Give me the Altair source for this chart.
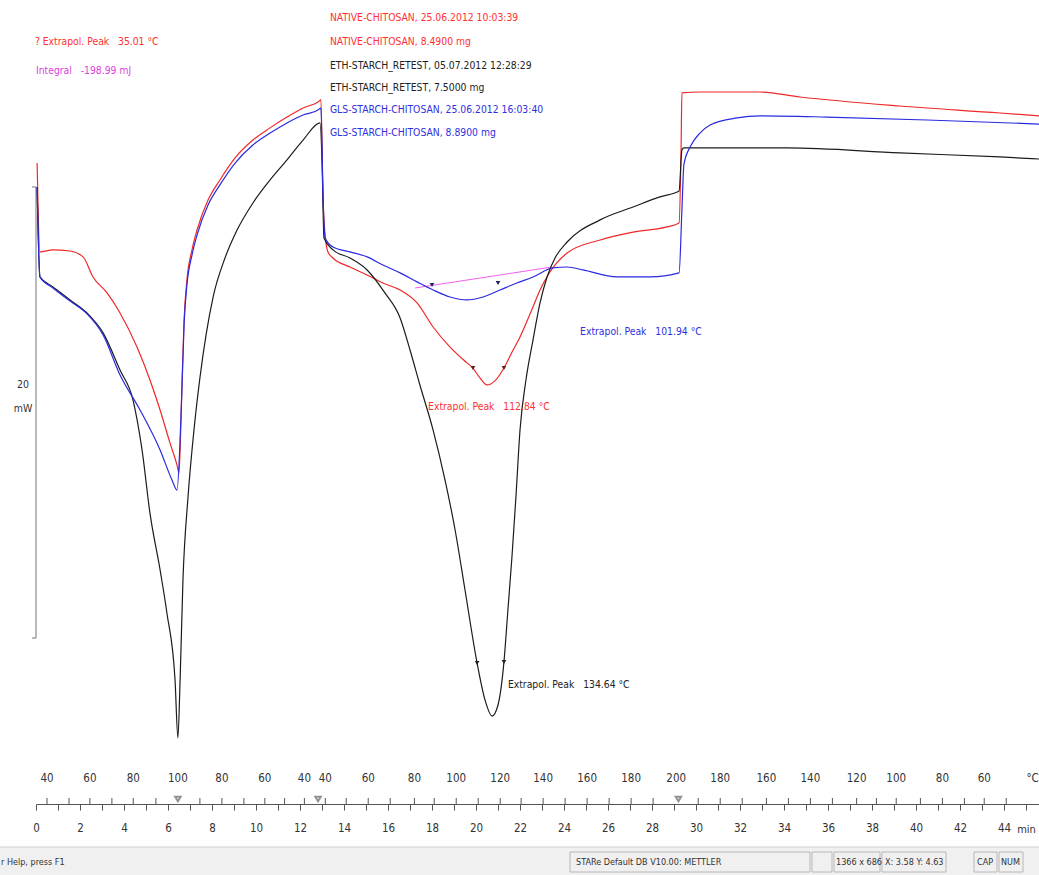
import altair as alt
import pandas as pd

# ---------------- data (time in min, heat flow in mW) ----------------
red_t = [0.05,0.18,0.77,1.55,2.14,2.59,3.23,3.82,4.59,5.18,5.64,6.09,6.41,6.50,6.59,6.64,6.73,6.86,7.09,7.32,
         7.82,8.36,9.05,9.86,10.64,11.41,12.14,12.82,12.95,13.05,13.14,13.27,13.50,14.27,15.05,15.77,16.55,17.32,
         18.05,18.82,19.59,19.86,20.18,20.50,20.86,21.27,21.64,22.00,22.59,22.91,23.36,24.14,25.64,27.14,28.68,
         29.23,29.32,29.36,30.18,32.91,34.73,39.27,43.82,45.59]
red_mw = [21.06,17.12,17.21,17.16,16.90,16.01,15.30,14.41,12.90,11.44,10.11,8.65,7.67,7.32,9.67,11.44,14.10,15.88,
          17.21,18.09,19.42,20.31,21.29,22.08,22.62,23.10,23.50,23.77,23.86,19.42,17.87,17.12,16.85,16.45,16.10,
          15.74,15.43,14.86,13.79,12.90,12.20,11.97,11.53,11.22,11.40,11.97,12.68,13.35,14.68,15.43,16.23,17.07,
          17.65,18.00,18.23,18.40,21.64,24.17,24.21,24.21,23.99,23.59,23.28,23.15]

black_t = [0.05,0.18,0.77,1.55,2.32,3.05,3.82,4.41,4.82,5.18,5.64,5.95,6.32,6.45,6.55,6.68,6.91,7.18,7.45,8.05,
           8.59,9.14,9.86,10.64,11.41,12.14,12.91,13.00,13.09,13.50,14.27,15.05,15.86,16.55,17.00,17.45,18.05,
           18.59,19.05,19.50,20.05,20.41,20.73,21.00,21.27,21.45,21.64,21.82,22.00,22.27,22.59,22.91,23.23,23.59,
           24.14,25.64,27.14,28.36,29.23,29.36,29.45,34.14,39.27,43.82,45.59]
black_mw = [20.00,16.01,15.57,14.99,14.41,13.53,11.88,10.55,8.34,5.54,3.02,1.11,-1.86,-4.43,-1.86,2.57,6.25,9.22,
            11.53,15.12,16.85,18.09,19.29,20.31,21.20,22.08,22.84,21.20,17.74,17.21,16.85,16.32,15.30,14.19,12.77,
            11.22,9.22,7.01,4.79,2.13,-1.11,-2.75,-3.46,-2.97,-1.06,1.24,3.68,6.34,9.22,11.44,13.21,14.86,16.01,
            16.85,17.56,18.54,19.11,19.56,19.82,21.64,21.73,21.73,21.51,21.33,21.24]

blue_t = [0.05,0.18,0.77,1.55,2.32,3.05,3.82,4.73,5.64,6.18,6.41,6.55,6.64,6.73,6.86,7.09,7.32,7.82,8.36,9.05,
          9.86,10.64,11.41,12.14,12.82,12.95,13.05,13.14,13.50,14.27,15.05,15.77,16.55,17.32,18.05,18.82,19.59,
          20.32,21.09,21.86,22.59,23.50,24.14,24.86,26.41,27.91,29.23,29.36,29.45,29.73,30.18,30.64,31.86,32.91,
          35.95,40.50,45.59]
blue_mw = [20.00,16.01,15.52,14.94,14.37,13.44,11.66,10.11,8.34,7.01,6.56,8.78,11.22,13.88,15.65,16.98,17.87,
           19.20,20.09,21.06,21.86,22.39,22.84,23.19,23.41,23.50,19.42,17.74,17.34,17.12,16.90,16.54,16.19,15.79,
           15.43,15.12,14.99,15.12,15.43,15.74,16.01,16.41,16.45,16.32,16.01,16.01,16.19,19.00,21.00,21.77,22.39,
           22.75,23.06,23.15,23.10,22.97,22.79]

series_names = ["NATIVE-CHITOSAN", "ETH-STARCH_RETEST", "GLS-STARCH-CHITOSAN"]
series_colors = ["#f02828", "#1c1c1c", "#2a2ae0"]

# integral baseline (GLS peak)
base_t = [17.23, 23.45]
base_mw = [15.52, 16.45]

# peak-limit markers
mark_t = [18.00, 21.00, 19.86, 21.27, 20.05, 21.27]
mark_mw = [15.65, 15.74, 11.97, 11.97, -1.11, -1.06]
mark_col = ["#202060", "#202060", "#602020", "#602020", "#202020", "#202020"]

NB = "\u00a0"
# annotations
ann_text = ["?" + NB + "Extrapol." + NB + "Peak" + NB * 3 + "35.01" + NB + "°C",
            "Integral" + NB * 3 + "-198.99" + NB + "mJ",
            "NATIVE-CHITOSAN, 25.06.2012 10:03:39", "NATIVE-CHITOSAN, 8.4900 mg",
            "ETH-STARCH_RETEST, 05.07.2012 12:28:29", "ETH-STARCH_RETEST, 7.5000 mg",
            "GLS-STARCH-CHITOSAN, 25.06.2012 16:03:40", "GLS-STARCH-CHITOSAN, 8.8900 mg",
            "Extrapol." + NB + "Peak" + NB * 3 + "101.94" + NB + "°C",
            "Extrapol." + NB + "Peak" + NB * 3 + "112.84" + NB + "°C",
            "Extrapol." + NB + "Peak" + NB * 3 + "134.64" + NB + "°C"]
ann_t = [-0.05, 0.0, 13.36, 13.36, 13.36, 13.36, 13.36, 13.36, 24.73, 17.82, 21.45]
ann_mw = [26.43, 25.14, 27.49, 26.43, 25.37, 24.39, 23.41, 22.39, 13.57, 10.24, -2.08]
ann_col = ["#ff3030", "#e040e0", "#ff3030", "#ff3030", "#222222", "#222222", "#3030e0", "#3030e0",
           "#3030e0", "#ff3030", "#222222"]

# temperature scale (°C) above the time axis
temp_t = [0.5, 2.45, 4.42, 6.45, 8.45, 10.4, 12.2, 13.15, 15.1, 17.2, 19.1, 21.1, 23.05, 25.05, 27.05, 29.1,
          31.1, 33.2, 35.2, 37.3, 39.1, 41.2, 43.1, 45.3]
temp_lbl = ["40", "60", "80", "100", "80", "60", "40", "40", "60", "80", "100", "120", "140", "160", "180",
            "200", "180", "160", "140", "120", "100", "80", "60", "°C"]
temp_tick_t = [0.5, 1.5, 2.45, 3.45, 4.42, 5.45, 7.45, 8.45, 9.45, 10.4, 11.3, 12.2, 13.15, 14.1, 15.1, 16.1,
               17.2, 18.1, 19.1, 20.1, 21.1, 22.05, 23.05, 24.05, 25.05, 26.05, 27.05, 28.05, 30.1, 31.1, 32.1,
               33.2, 34.2, 35.2, 36.2, 37.3, 38.2, 39.1, 40.2, 41.2, 42.2, 43.1, 44.1]
segment_t = [6.45, 12.82, 29.2]

# scale bar (20 mW)
bar_mw = [0, 20]

status_text = ["r Help, press F1", "STARe Default DB V10.00: METTLER", "1366 x 686", "X: 3.58 Y: 4.63",
               "CAP", "NUM"]

# ---------------- tables ----------------
rows = []
for name, ts, ms in zip(series_names, [red_t, black_t, blue_t], [red_mw, black_mw, blue_mw]):
    for i, (t, m) in enumerate(zip(ts, ms)):
        rows.append({"series": name, "t": t, "mW": m, "i": i})
curves = pd.DataFrame(rows)
base_df = pd.DataFrame({"t": base_t, "mW": base_mw})
mark_df = pd.DataFrame({"t": mark_t, "mW": mark_mw, "c": mark_col})
ann_df = pd.DataFrame({"t": ann_t, "mW": ann_mw, "txt": ann_text, "c": ann_col})
temp_df = pd.DataFrame({"t": temp_t, "lbl": temp_lbl})
ttick_df = pd.DataFrame({"t": temp_tick_t})
seg_df = pd.DataFrame({"t": segment_t})
bar_df = pd.DataFrame({"mW": bar_mw})

FONT = "DejaVu Sans Condensed, Liberation Sans Narrow, Arial Narrow, sans-serif"
W, H = 1003, 804

xs = alt.Scale(domain=[0, 45.59], nice=False, zero=False)
ys = alt.Scale(domain=[-7.36, 28.29], nice=False, zero=False)
xaxis = alt.Axis(values=list(range(0, 46)), labelExpr="datum.value % 2 == 0 ? datum.label : ''",
                 title=None, grid=False, domainColor="#555555", tickColor="#555555", tickSize=6,
                 labelFont=FONT, labelFontSize=11.5, labelColor="#333333", labelPadding=12,
                 labelFlush=False, labelOverlap=False)


def X():
    return alt.X("t:Q", scale=xs, axis=xaxis)


def Y():
    return alt.Y("mW:Q", scale=ys, axis=None)


lines = alt.Chart(curves).mark_line(strokeWidth=1.2, interpolate="monotone").encode(
    x=X(), y=Y(),
    color=alt.Color("series:N", scale=alt.Scale(domain=series_names, range=series_colors), legend=None),
    detail="series:N", order="i:Q")

baseline = alt.Chart(base_df).mark_line(color="#f060f0", strokeWidth=1).encode(x=X(), y=Y())

markers = alt.Chart(mark_df).mark_point(shape="triangle-down", filled=True, size=22, opacity=1).encode(
    x=X(), y=Y(), color=alt.Color("c:N", scale=None))

ann = alt.Chart(ann_df).mark_text(align="left", baseline="middle", font=FONT, fontSize=10.3).encode(
    x=X(), y=Y(), text="txt:N", color=alt.Color("c:N", scale=None))

bar = alt.Chart(pd.DataFrame({"a": [0], "b": [20]})).mark_rule(color="#777777", strokeWidth=1).encode(
    x=alt.value(0), y=alt.Y("a:Q", scale=ys, axis=None), y2="b:Q")
bar_ticks = alt.Chart(bar_df).mark_rule(color="#777777").encode(
    x=alt.value(-4), x2=alt.value(0), y=Y())
bar_lbl = alt.Chart(pd.DataFrame({"mW": [11.22, 10.16], "txt": ["20", "mW"]})).mark_text(
    align="center", baseline="middle", font=FONT, fontSize=10.5, color="#333333").encode(
    x=alt.value(-13), y=Y(), text="txt:N")

temp_lbls = alt.Chart(temp_df).mark_text(baseline="middle", font=FONT, fontSize=11.5, color="#333333").encode(
    x=X(), y=alt.value(779), text="lbl:N")
temp_ticks = alt.Chart(ttick_df).mark_rule(color="#555555").encode(
    x=X(), y=alt.value(798), y2=alt.value(H))
seg_marks = alt.Chart(seg_df).mark_point(shape="triangle-down", filled=False, size=30, color="#666666").encode(
    x=X(), y=alt.value(799))
min_lbl = alt.Chart(pd.DataFrame({"t": [44.6], "txt": ["min"]})).mark_text(
    align="left", baseline="middle", font=FONT, fontSize=11, color="#333333").encode(
    x=X(), y=alt.value(830), text="txt:N")

# status bar
sb_bg = alt.Chart(pd.DataFrame({"k": [0]})).mark_rect(color="#f0f0f0").encode(
    x=alt.value(-36), x2=alt.value(W), y=alt.value(847), y2=alt.value(875))
sb_line = alt.Chart(pd.DataFrame({"k": [0]})).mark_rule(color="#d0d0d0").encode(
    x=alt.value(-36), x2=alt.value(W), y=alt.value(847))
panels = pd.DataFrame({"x1": [534, 776, 798, 846, 938, 963], "x2": [774, 796, 844, 910, 961, 987]})
sb_panels = alt.Chart(panels).mark_rect(fill="#f0f0f0", stroke="#b8b8b8", strokeWidth=1).encode(
    x=alt.X("x1:Q", scale=None), x2="x2:Q", y=alt.value(852), y2=alt.value(872))
sb_txt = alt.Chart(pd.DataFrame({"xp": [-35, 540, 800, 849, 941, 965], "txt": status_text})).mark_text(
    align="left", baseline="middle", font=FONT, fontSize=9, color="#333333").encode(
    x=alt.X("xp:Q", scale=None), y=alt.value(862), text="txt:N")

chart = alt.layer(
    sb_bg, sb_line, sb_panels, sb_txt,
    bar, bar_ticks, bar_lbl,
    temp_ticks, temp_lbls, seg_marks, min_lbl,
    baseline, lines, markers, ann,
).properties(
    width=W, height=H,
    padding={"left": 36, "top": 0, "right": 0, "bottom": 71},
    autosize=alt.AutoSizeParams(type="none"),
    background="white",
).configure_view(stroke=None)

chart.save("out.html", embed_options={"renderer": "svg", "actions": False})
